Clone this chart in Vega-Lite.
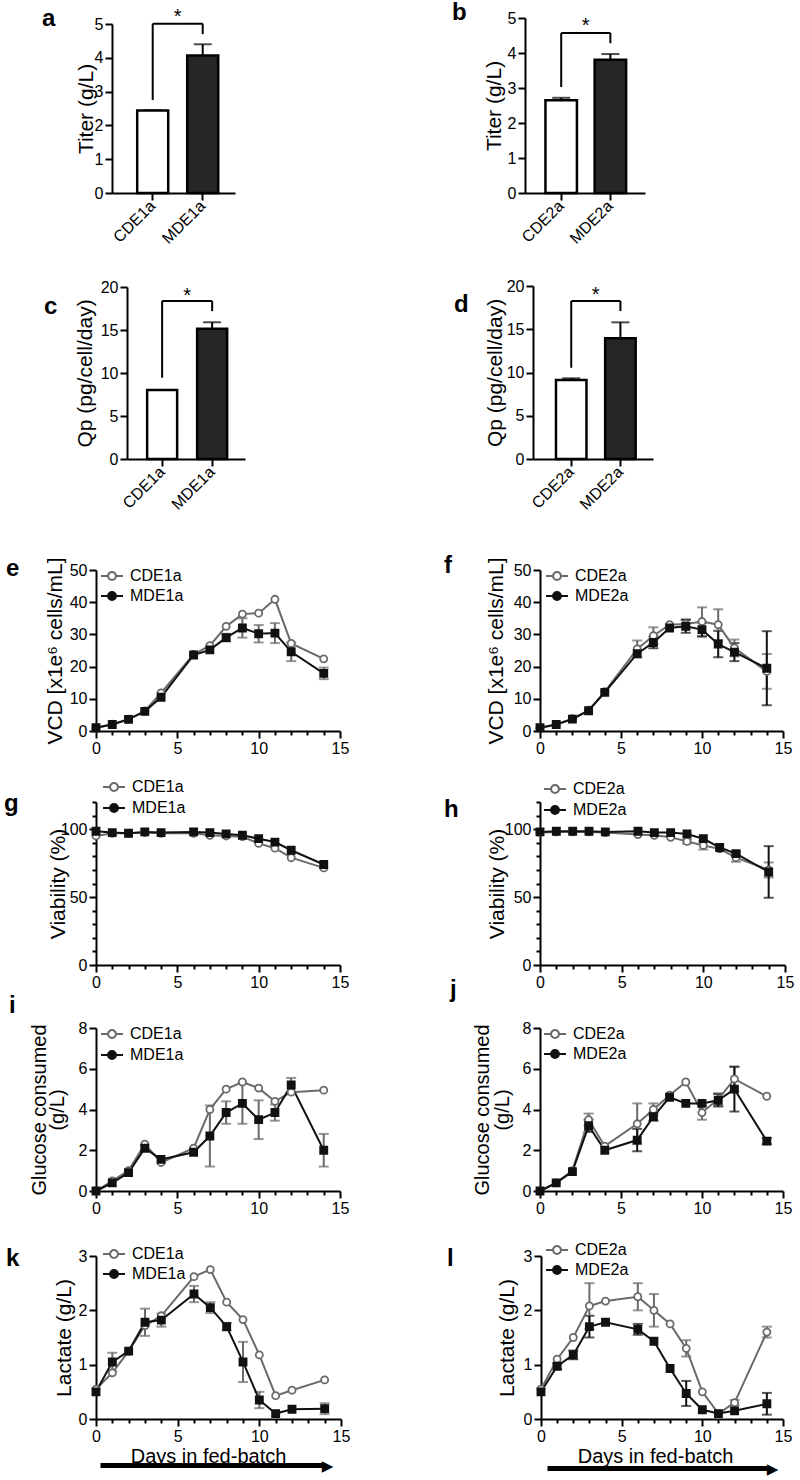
{
"$schema": "https://vega.github.io/schema/vega-lite/v6.json",
"background": "white",
"padding": {"left": 4, "top": 1, "right": 4, "bottom": 2},
"config": {
  "font": "Liberation Sans",
  "view": {"stroke": null},
  "axis": {"grid": false, "domainColor": "#000", "domainWidth": 2, "tickColor": "#000", "tickWidth": 2, "tickSize": 7, "labelFontSize": 16, "labelColor": "#000", "labelPadding": 2, "titleFontSize": 21, "titleFontWeight": "normal", "titleColor": "#000", "titleBaseline": "middle", "labelFont": "Liberation Sans", "titleFont": "Liberation Sans"},
  "legend": {"labelFontSize": 16, "labelColor": "#000", "labelFont": "Liberation Sans"},
  "title": {"fontSize": 24, "fontWeight": "bold", "anchor": "start", "frame": "group", "offset": 0, "baseline": "alphabetic", "color": "#000", "font": "Liberation Sans"},
  "text": {"font": "Liberation Sans"}
},
"datasets": {
  "bars": [
    {"p":"a","g":"CDE1a","v":2.44,"e":0},
    {"p":"a","g":"MDE1a","v":4.07,"e":0.33},
    {"p":"b","g":"CDE2a","v":2.65,"e":0.07},
    {"p":"b","g":"MDE2a","v":3.81,"e":0.16},
    {"p":"c","g":"CDE1a","v":8.02,"e":0},
    {"p":"c","g":"MDE1a","v":15.15,"e":0.75},
    {"p":"d","g":"CDE2a","v":9.13,"e":0.2},
    {"p":"d","g":"MDE2a","v":13.95,"e":1.85}
  ],
  "sig": [
    {"p":"a","k":"leg","g":"CDE1a","v":2.75,"v2":5.01},
    {"p":"a","k":"leg","g":"MDE1a","v":4.7,"v2":5.01},
    {"p":"a","k":"top","g":"CDE1a","v":5.01},
    {"p":"a","k":"top","g":"MDE1a","v":5.01},
    {"p":"a","k":"star","g":"CDE1a","v":5.03,"s":"*"},
    {"p":"b","k":"leg","g":"CDE2a","v":3.03,"v2":4.57},
    {"p":"b","k":"leg","g":"MDE2a","v":4.28,"v2":4.57},
    {"p":"b","k":"top","g":"CDE2a","v":4.57},
    {"p":"b","k":"top","g":"MDE2a","v":4.57},
    {"p":"b","k":"star","g":"CDE2a","v":4.61,"s":"*"},
    {"p":"c","k":"leg","g":"CDE1a","v":9.45,"v2":18.37},
    {"p":"c","k":"leg","g":"MDE1a","v":17.2,"v2":18.37},
    {"p":"c","k":"top","g":"CDE1a","v":18.37},
    {"p":"c","k":"top","g":"MDE1a","v":18.37},
    {"p":"c","k":"star","g":"CDE1a","v":18.26,"s":"*"},
    {"p":"d","k":"leg","g":"CDE2a","v":10.55,"v2":18.27},
    {"p":"d","k":"leg","g":"MDE2a","v":17.1,"v2":18.27},
    {"p":"d","k":"top","g":"CDE2a","v":18.27},
    {"p":"d","k":"top","g":"MDE2a","v":18.27},
    {"p":"d","k":"star","g":"CDE2a","v":18.32,"s":"*"}
  ],
  "lines": [
    {"p":"e","g":"CDE1a","d":0,"v":1.0},{"p":"e","g":"CDE1a","d":1,"v":2.1},{"p":"e","g":"CDE1a","d":2,"v":3.7},{"p":"e","g":"CDE1a","d":3,"v":6.2},{"p":"e","g":"CDE1a","d":4,"v":11.8},{"p":"e","g":"CDE1a","d":6,"v":23.8},{"p":"e","g":"CDE1a","d":7,"v":26.5},{"p":"e","g":"CDE1a","d":8,"v":32.5},{"p":"e","g":"CDE1a","d":9,"v":36.3},{"p":"e","g":"CDE1a","d":10,"v":36.6},{"p":"e","g":"CDE1a","d":11,"v":40.9},{"p":"e","g":"CDE1a","d":12,"v":27.2},{"p":"e","g":"CDE1a","d":14,"v":22.4},
    {"p":"e","g":"MDE1a","d":0,"v":1.0},{"p":"e","g":"MDE1a","d":1,"v":2.0},{"p":"e","g":"MDE1a","d":2,"v":3.6},{"p":"e","g":"MDE1a","d":3,"v":6.1},{"p":"e","g":"MDE1a","d":4,"v":10.5},{"p":"e","g":"MDE1a","d":6,"v":23.6},{"p":"e","g":"MDE1a","d":7,"v":25.2},{"p":"e","g":"MDE1a","d":8,"v":29.0,"e":1.2},{"p":"e","g":"MDE1a","d":9,"v":32.0,"e":3.0},{"p":"e","g":"MDE1a","d":10,"v":30.2,"e":2.7},{"p":"e","g":"MDE1a","d":11,"v":30.4,"e":3.1},{"p":"e","g":"MDE1a","d":12,"v":24.6,"e":2.9},{"p":"e","g":"MDE1a","d":14,"v":17.9,"e":1.8},
    {"p":"f","g":"CDE2a","d":0,"v":1.0},{"p":"f","g":"CDE2a","d":1,"v":2.0},{"p":"f","g":"CDE2a","d":2,"v":3.8},{"p":"f","g":"CDE2a","d":3,"v":6.5},{"p":"f","g":"CDE2a","d":4,"v":12.2},{"p":"f","g":"CDE2a","d":6,"v":25.5,"e":2.6},{"p":"f","g":"CDE2a","d":7,"v":29.6,"e":2.6},{"p":"f","g":"CDE2a","d":8,"v":33.0},{"p":"f","g":"CDE2a","d":9,"v":33.2,"e":1.5},{"p":"f","g":"CDE2a","d":10,"v":34.0,"e":4.4},{"p":"f","g":"CDE2a","d":11,"v":33.0,"e":4.8},{"p":"f","g":"CDE2a","d":12,"v":25.8,"e":2.6},{"p":"f","g":"CDE2a","d":14,"v":18.5,"e":5.4},
    {"p":"f","g":"MDE2a","d":0,"v":1.0},{"p":"f","g":"MDE2a","d":1,"v":2.0},{"p":"f","g":"MDE2a","d":2,"v":3.7},{"p":"f","g":"MDE2a","d":3,"v":6.3},{"p":"f","g":"MDE2a","d":4,"v":12.0},{"p":"f","g":"MDE2a","d":6,"v":24.0},{"p":"f","g":"MDE2a","d":7,"v":27.5,"e":1.8},{"p":"f","g":"MDE2a","d":8,"v":32.0},{"p":"f","g":"MDE2a","d":9,"v":32.5,"e":2.0},{"p":"f","g":"MDE2a","d":10,"v":31.5,"e":2.2},{"p":"f","g":"MDE2a","d":11,"v":27.0,"e":4.1},{"p":"f","g":"MDE2a","d":12,"v":24.5,"e":2.8},{"p":"f","g":"MDE2a","d":14,"v":19.5,"e":11.5},
    {"p":"g","g":"CDE1a","d":0,"v":95},{"p":"g","g":"CDE1a","d":1,"v":97},{"p":"g","g":"CDE1a","d":2,"v":97},{"p":"g","g":"CDE1a","d":3,"v":97.5},{"p":"g","g":"CDE1a","d":4,"v":97},{"p":"g","g":"CDE1a","d":6,"v":97},{"p":"g","g":"CDE1a","d":7,"v":95.5},{"p":"g","g":"CDE1a","d":8,"v":95},{"p":"g","g":"CDE1a","d":9,"v":94.5},{"p":"g","g":"CDE1a","d":10,"v":89.5},{"p":"g","g":"CDE1a","d":11,"v":86},{"p":"g","g":"CDE1a","d":12,"v":79},{"p":"g","g":"CDE1a","d":14,"v":71.5},
    {"p":"g","g":"MDE1a","d":0,"v":98.5},{"p":"g","g":"MDE1a","d":1,"v":97.5},{"p":"g","g":"MDE1a","d":2,"v":97},{"p":"g","g":"MDE1a","d":3,"v":98},{"p":"g","g":"MDE1a","d":4,"v":97.5},{"p":"g","g":"MDE1a","d":6,"v":98},{"p":"g","g":"MDE1a","d":7,"v":97.5},{"p":"g","g":"MDE1a","d":8,"v":96.5},{"p":"g","g":"MDE1a","d":9,"v":95.5},{"p":"g","g":"MDE1a","d":10,"v":93},{"p":"g","g":"MDE1a","d":11,"v":90.5},{"p":"g","g":"MDE1a","d":12,"v":84.5},{"p":"g","g":"MDE1a","d":14,"v":74},
    {"p":"h","g":"CDE2a","d":0,"v":97.5},{"p":"h","g":"CDE2a","d":1,"v":98},{"p":"h","g":"CDE2a","d":2,"v":98},{"p":"h","g":"CDE2a","d":3,"v":98},{"p":"h","g":"CDE2a","d":4,"v":97.5},{"p":"h","g":"CDE2a","d":6,"v":96},{"p":"h","g":"CDE2a","d":7,"v":95.5},{"p":"h","g":"CDE2a","d":8,"v":94},{"p":"h","g":"CDE2a","d":9,"v":91,"e":1.5},{"p":"h","g":"CDE2a","d":10,"v":88,"e":3},{"p":"h","g":"CDE2a","d":11,"v":85.5},{"p":"h","g":"CDE2a","d":12,"v":79,"e":3},{"p":"h","g":"CDE2a","d":14,"v":70,"e":5.5},
    {"p":"h","g":"MDE2a","d":0,"v":98},{"p":"h","g":"MDE2a","d":1,"v":98.5},{"p":"h","g":"MDE2a","d":2,"v":98.5},{"p":"h","g":"MDE2a","d":3,"v":98.5},{"p":"h","g":"MDE2a","d":4,"v":98},{"p":"h","g":"MDE2a","d":6,"v":98.5},{"p":"h","g":"MDE2a","d":7,"v":97.5},{"p":"h","g":"MDE2a","d":8,"v":97.5},{"p":"h","g":"MDE2a","d":9,"v":96.5},{"p":"h","g":"MDE2a","d":10,"v":93},{"p":"h","g":"MDE2a","d":11,"v":86.5},{"p":"h","g":"MDE2a","d":12,"v":82,"e":1.5},{"p":"h","g":"MDE2a","d":14,"v":68.5,"e":19},
    {"p":"i","g":"CDE1a","d":0,"v":0},{"p":"i","g":"CDE1a","d":1,"v":0.5},{"p":"i","g":"CDE1a","d":2,"v":1.0},{"p":"i","g":"CDE1a","d":3,"v":2.3},{"p":"i","g":"CDE1a","d":4,"v":1.4},{"p":"i","g":"CDE1a","d":6,"v":2.1},{"p":"i","g":"CDE1a","d":7,"v":4.0},{"p":"i","g":"CDE1a","d":8,"v":5.0},{"p":"i","g":"CDE1a","d":9,"v":5.35},{"p":"i","g":"CDE1a","d":10,"v":5.05},{"p":"i","g":"CDE1a","d":11,"v":4.4},{"p":"i","g":"CDE1a","d":12,"v":4.85},{"p":"i","g":"CDE1a","d":14,"v":4.95},
    {"p":"i","g":"MDE1a","d":0,"v":0},{"p":"i","g":"MDE1a","d":1,"v":0.4},{"p":"i","g":"MDE1a","d":2,"v":0.9},{"p":"i","g":"MDE1a","d":3,"v":2.1},{"p":"i","g":"MDE1a","d":4,"v":1.55},{"p":"i","g":"MDE1a","d":6,"v":1.9},{"p":"i","g":"MDE1a","d":7,"v":2.7,"e":1.5},{"p":"i","g":"MDE1a","d":8,"v":3.85,"e":0.55},{"p":"i","g":"MDE1a","d":9,"v":4.3,"e":1.0},{"p":"i","g":"MDE1a","d":10,"v":3.5,"e":0.95},{"p":"i","g":"MDE1a","d":11,"v":3.85,"e":0.4},{"p":"i","g":"MDE1a","d":12,"v":5.2,"e":0.35},{"p":"i","g":"MDE1a","d":14,"v":2.0,"e":0.8},
    {"p":"j","g":"CDE2a","d":0,"v":0},{"p":"j","g":"CDE2a","d":1,"v":0.4},{"p":"j","g":"CDE2a","d":2,"v":1.0},{"p":"j","g":"CDE2a","d":3,"v":3.5,"e":0.3},{"p":"j","g":"CDE2a","d":4,"v":2.2},{"p":"j","g":"CDE2a","d":6,"v":3.3,"e":1.0},{"p":"j","g":"CDE2a","d":7,"v":4.0,"e":0.3},{"p":"j","g":"CDE2a","d":8,"v":4.7},{"p":"j","g":"CDE2a","d":9,"v":5.35},{"p":"j","g":"CDE2a","d":10,"v":3.85,"e":0.35},{"p":"j","g":"CDE2a","d":11,"v":4.5,"e":0.3},{"p":"j","g":"CDE2a","d":12,"v":5.5,"e":0.6},{"p":"j","g":"CDE2a","d":14,"v":4.65},
    {"p":"j","g":"MDE2a","d":0,"v":0},{"p":"j","g":"MDE2a","d":1,"v":0.4},{"p":"j","g":"MDE2a","d":2,"v":0.95},{"p":"j","g":"MDE2a","d":3,"v":3.2,"e":0.3},{"p":"j","g":"MDE2a","d":4,"v":2.0},{"p":"j","g":"MDE2a","d":6,"v":2.5,"e":0.55},{"p":"j","g":"MDE2a","d":7,"v":3.65,"e":0.2},{"p":"j","g":"MDE2a","d":8,"v":4.6},{"p":"j","g":"MDE2a","d":9,"v":4.3},{"p":"j","g":"MDE2a","d":10,"v":4.3},{"p":"j","g":"MDE2a","d":11,"v":4.45,"e":0.3},{"p":"j","g":"MDE2a","d":12,"v":5.0,"e":1.1},{"p":"j","g":"MDE2a","d":14,"v":2.45,"e":0.15},
    {"p":"k","g":"CDE1a","d":0,"v":0.55},{"p":"k","g":"CDE1a","d":1,"v":0.85},{"p":"k","g":"CDE1a","d":2,"v":1.25},{"p":"k","g":"CDE1a","d":3,"v":1.72},{"p":"k","g":"CDE1a","d":4,"v":1.9},{"p":"k","g":"CDE1a","d":6,"v":2.62},{"p":"k","g":"CDE1a","d":7,"v":2.75},{"p":"k","g":"CDE1a","d":8,"v":2.15},{"p":"k","g":"CDE1a","d":9,"v":1.83},{"p":"k","g":"CDE1a","d":10,"v":1.18},{"p":"k","g":"CDE1a","d":11,"v":0.43},{"p":"k","g":"CDE1a","d":12,"v":0.53},{"p":"k","g":"CDE1a","d":14,"v":0.72},
    {"p":"k","g":"MDE1a","d":0,"v":0.5},{"p":"k","g":"MDE1a","d":1,"v":1.05,"e":0.17},{"p":"k","g":"MDE1a","d":2,"v":1.25},{"p":"k","g":"MDE1a","d":3,"v":1.78,"e":0.25},{"p":"k","g":"MDE1a","d":4,"v":1.82,"e":0.12},{"p":"k","g":"MDE1a","d":6,"v":2.3,"e":0.15},{"p":"k","g":"MDE1a","d":7,"v":2.05,"e":0.1},{"p":"k","g":"MDE1a","d":8,"v":1.7,"e":0.07},{"p":"k","g":"MDE1a","d":9,"v":1.05,"e":0.37},{"p":"k","g":"MDE1a","d":10,"v":0.35,"e":0.15},{"p":"k","g":"MDE1a","d":11,"v":0.1},{"p":"k","g":"MDE1a","d":12,"v":0.18},{"p":"k","g":"MDE1a","d":14,"v":0.19,"e":0.1},
    {"p":"l","g":"CDE2a","d":0,"v":0.55},{"p":"l","g":"CDE2a","d":1,"v":1.1},{"p":"l","g":"CDE2a","d":2,"v":1.5},{"p":"l","g":"CDE2a","d":3,"v":2.08,"e":0.42},{"p":"l","g":"CDE2a","d":4,"v":2.17},{"p":"l","g":"CDE2a","d":6,"v":2.25,"e":0.25},{"p":"l","g":"CDE2a","d":7,"v":2.0,"e":0.3},{"p":"l","g":"CDE2a","d":8,"v":1.75},{"p":"l","g":"CDE2a","d":9,"v":1.3,"e":0.15},{"p":"l","g":"CDE2a","d":10,"v":0.5},{"p":"l","g":"CDE2a","d":11,"v":0.1},{"p":"l","g":"CDE2a","d":12,"v":0.3,"e":0.05},{"p":"l","g":"CDE2a","d":14,"v":1.6,"e":0.1},
    {"p":"l","g":"MDE2a","d":0,"v":0.5},{"p":"l","g":"MDE2a","d":1,"v":0.97,"e":0.05},{"p":"l","g":"MDE2a","d":2,"v":1.18,"e":0.08},{"p":"l","g":"MDE2a","d":3,"v":1.7,"e":0.2},{"p":"l","g":"MDE2a","d":4,"v":1.78},{"p":"l","g":"MDE2a","d":6,"v":1.65,"e":0.1},{"p":"l","g":"MDE2a","d":7,"v":1.43},{"p":"l","g":"MDE2a","d":8,"v":0.93},{"p":"l","g":"MDE2a","d":9,"v":0.47,"e":0.23},{"p":"l","g":"MDE2a","d":10,"v":0.17},{"p":"l","g":"MDE2a","d":11,"v":0.1},{"p":"l","g":"MDE2a","d":12,"v":0.15},{"p":"l","g":"MDE2a","d":14,"v":0.28,"e":0.2}
  ]
},
"columns": 2,
"align": "each",
"bounds": "flush",
"spacing": {"row": 63, "column": 184},
"resolve": {"scale": {"color": "independent", "stroke": "independent", "fill": "independent", "shape": "independent"}, "legend": {"color": "independent", "stroke": "independent", "fill": "independent", "shape": "independent"}},
"concat": [
  {
    "width": 139, "height": 175,
    "title": {"text": "a", "dx": -54, "dy": 28},
    "encoding": {
      "x": {"field": "g", "type": "nominal", "scale": {"range": [16, 139], "paddingInner": 0.38, "paddingOuter": 0.42, "align": 0.6}, "axis": {"title": null, "labelAngle": -45, "labelAlign": "right", "labelBaseline": "middle", "labelPadding": 3}},
      "y": {"field": "v", "type": "quantitative", "scale": {"domain": [0, 5], "range": [175, 6], "nice": false}, "axis": {"values": [0,1,2,3,4,5], "title": "Titer (g/L)", "titleX": -26, "offset": -16}}
    },
    "layer": [
      {"data": {"name": "bars"}, "transform": [{"filter": "datum.p === 'a'"}], "mark": {"type": "errorbar", "thickness": 2, "color": "#000", "ticks": {"size": 18, "thickness": 2, "color": "#000"}}, "encoding": {"yError": {"field": "e"}}},
      {"data": {"name": "bars"}, "transform": [{"filter": "datum.p === 'a'"}], "mark": {"type": "bar", "stroke": "#000", "strokeWidth": 2.5}, "encoding": {"fill": {"field": "g", "type": "nominal", "scale": {"range": ["#ffffff", "#262626"]}, "legend": null}}},
      {"data": {"name": "sig"}, "transform": [{"filter": "datum.p === 'a' && datum.k === 'leg'"}], "mark": {"type": "rule", "color": "#000", "strokeWidth": 2}, "encoding": {"y2": {"field": "v2"}}},
      {"data": {"name": "sig"}, "transform": [{"filter": "datum.p === 'a' && datum.k === 'top'"}], "mark": {"type": "line", "color": "#000", "strokeWidth": 2}, "encoding": {}},
      {"data": {"name": "sig"}, "transform": [{"filter": "datum.p === 'a' && datum.k === 'star'"}], "mark": {"type": "text", "dx": 25, "fontSize": 20, "baseline": "alphabetic", "align": "center", "color": "#000"}, "encoding": {"text": {"field": "s"}}}
    ]
  },
  {
    "width": 120, "height": 175,
    "title": {"text": "b", "dx": -73, "dy": 19},
    "encoding": {
      "x": {"field": "g", "type": "nominal", "scale": {"paddingInner": 0.36, "paddingOuter": 0.4, "align": 0.52}, "axis": {"title": null, "labelAngle": -45, "labelAlign": "right", "labelBaseline": "middle", "labelPadding": 3}},
      "y": {"field": "v", "type": "quantitative", "scale": {"domain": [0, 5], "nice": false}, "axis": {"values": [0,1,2,3,4,5], "title": "Titer (g/L)", "titleX": -31}}
    },
    "layer": [
      {"data": {"name": "bars"}, "transform": [{"filter": "datum.p === 'b'"}], "mark": {"type": "errorbar", "thickness": 2, "color": "#000", "ticks": {"size": 18, "thickness": 2, "color": "#000"}}, "encoding": {"yError": {"field": "e"}}},
      {"data": {"name": "bars"}, "transform": [{"filter": "datum.p === 'b'"}], "mark": {"type": "bar", "stroke": "#000", "strokeWidth": 2.5}, "encoding": {"fill": {"field": "g", "type": "nominal", "scale": {"range": ["#ffffff", "#262626"]}, "legend": null}}},
      {"data": {"name": "sig"}, "transform": [{"filter": "datum.p === 'b' && datum.k === 'leg'"}], "mark": {"type": "rule", "color": "#000", "strokeWidth": 2}, "encoding": {"y2": {"field": "v2"}}},
      {"data": {"name": "sig"}, "transform": [{"filter": "datum.p === 'b' && datum.k === 'top'"}], "mark": {"type": "line", "color": "#000", "strokeWidth": 2}, "encoding": {}},
      {"data": {"name": "sig"}, "transform": [{"filter": "datum.p === 'b' && datum.k === 'star'"}], "mark": {"type": "text", "dx": 24.5, "fontSize": 20, "baseline": "alphabetic", "align": "center", "color": "#000"}, "encoding": {"text": {"field": "s"}}}
    ]
  },
  {
    "width": 149, "height": 203,
    "title": {"text": "c", "dx": -52, "dy": 67},
    "encoding": {
      "x": {"field": "g", "type": "nominal", "scale": {"range": [31, 149], "paddingInner": 0.4, "paddingOuter": 0.38, "align": 0.53}, "axis": {"title": null, "labelAngle": -45, "labelAlign": "right", "labelBaseline": "middle", "labelPadding": 3}},
      "y": {"field": "v", "type": "quantitative", "scale": {"domain": [0, 20], "range": [203, 31], "nice": false}, "axis": {"values": [0,5,10,15,20], "title": "Qp (pg/cell/day)", "titleX": -42, "offset": -31}}
    },
    "layer": [
      {"data": {"name": "bars"}, "transform": [{"filter": "datum.p === 'c'"}], "mark": {"type": "errorbar", "thickness": 2, "color": "#000", "ticks": {"size": 18, "thickness": 2, "color": "#000"}}, "encoding": {"yError": {"field": "e"}}},
      {"data": {"name": "bars"}, "transform": [{"filter": "datum.p === 'c'"}], "mark": {"type": "bar", "stroke": "#000", "strokeWidth": 2.5}, "encoding": {"fill": {"field": "g", "type": "nominal", "scale": {"range": ["#ffffff", "#262626"]}, "legend": null}}},
      {"data": {"name": "sig"}, "transform": [{"filter": "datum.p === 'c' && datum.k === 'leg'"}], "mark": {"type": "rule", "color": "#000", "strokeWidth": 2}, "encoding": {"y2": {"field": "v2"}}},
      {"data": {"name": "sig"}, "transform": [{"filter": "datum.p === 'c' && datum.k === 'top'"}], "mark": {"type": "line", "color": "#000", "strokeWidth": 2}, "encoding": {}},
      {"data": {"name": "sig"}, "transform": [{"filter": "datum.p === 'c' && datum.k === 'star'"}], "mark": {"type": "text", "dx": 25, "fontSize": 20, "baseline": "alphabetic", "align": "center", "color": "#000"}, "encoding": {"text": {"field": "s"}}}
    ]
  },
  {
    "width": 128, "height": 203,
    "title": {"text": "d", "dx": -71, "dy": 65},
    "encoding": {
      "x": {"field": "g", "type": "nominal", "scale": {"range": [8, 128], "paddingInner": 0.38, "paddingOuter": 0.41, "align": 0.57}, "axis": {"title": null, "labelAngle": -45, "labelAlign": "right", "labelBaseline": "middle", "labelPadding": 3}},
      "y": {"field": "v", "type": "quantitative", "scale": {"domain": [0, 20], "range": [203, 30], "nice": false}, "axis": {"values": [0,5,10,15,20], "title": "Qp (pg/cell/day)", "titleX": -38, "offset": -8}}
    },
    "layer": [
      {"data": {"name": "bars"}, "transform": [{"filter": "datum.p === 'd'"}], "mark": {"type": "errorbar", "thickness": 2, "color": "#000", "ticks": {"size": 18, "thickness": 2, "color": "#000"}}, "encoding": {"yError": {"field": "e"}}},
      {"data": {"name": "bars"}, "transform": [{"filter": "datum.p === 'd'"}], "mark": {"type": "bar", "stroke": "#000", "strokeWidth": 2.5}, "encoding": {"fill": {"field": "g", "type": "nominal", "scale": {"range": ["#ffffff", "#262626"]}, "legend": null}}},
      {"data": {"name": "sig"}, "transform": [{"filter": "datum.p === 'd' && datum.k === 'leg'"}], "mark": {"type": "rule", "color": "#000", "strokeWidth": 2}, "encoding": {"y2": {"field": "v2"}}},
      {"data": {"name": "sig"}, "transform": [{"filter": "datum.p === 'd' && datum.k === 'top'"}], "mark": {"type": "line", "color": "#000", "strokeWidth": 2}, "encoding": {}},
      {"data": {"name": "sig"}, "transform": [{"filter": "datum.p === 'd' && datum.k === 'star'"}], "mark": {"type": "text", "dx": 24.5, "fontSize": 20, "baseline": "alphabetic", "align": "center", "color": "#000"}, "encoding": {"text": {"field": "s"}}}
    ]
  },
  {
    "width": 244, "height": 209,
    "title": {"text": "e", "dx": -90, "dy": 63},
    "data": {"name": "lines"},
    "transform": [{"filter": "datum.p === 'e'"}],
    "encoding": {
      "x": {"field": "d", "type": "quantitative", "scale": {"domain": [0, 15], "nice": false}, "axis": {"values": [0,1,2,3,4,5,6,7,8,9,10,11,12,13,14,15], "labelExpr": "datum.value % 5 === 0 ? datum.label : ''", "tickSize": {"condition": {"test": "datum.value % 5 === 0", "value": 7}, "value": 4}, "title": null, "labelFlush": false, "labelOverlap": false}},
      "y": {"field": "v", "type": "quantitative", "scale": {"domain": [0, 50], "range": [209, 48], "nice": false}, "axis": {"values": [0,10,20,30,40,50], "title": "VCD [x1e⁶ cells/mL]", "titleX": -40.5}}
    },
    "layer": [
      {"transform": [{"filter": "datum.e > 0"}], "mark": {"type": "errorbar", "thickness": 2, "ticks": {"size": 10, "thickness": 2}}, "encoding": {"yError": {"field": "e"}, "color": {"field": "g", "type": "nominal", "scale": {"range": ["#6a6a6a", "#111111"]}, "legend": null}}},
      {"mark": {"type": "line", "strokeWidth": 2}, "encoding": {"stroke": {"field": "g", "type": "nominal", "scale": {"range": ["#6a6a6a", "#111111"]}, "legend": {"orient": "none", "legendX": 4, "legendY": 42, "title": null, "symbolType": "M-1,0L-0.36,0M0.36,0L1,0M-0.36,0A0.36,0.36,0,1,1,0.36,0A0.36,0.36,0,1,1,-0.36,0Z", "symbolSize": 484, "symbolStrokeWidth": 2, "labelFontSize": 16, "labelOffset": 6, "rowPadding": 0, "padding": 0, "encode": {"symbols": {"update": {"fill": {"signal": "indexof(datum.value, 'C') === 0 ? '#ffffff' : '#111111'"}}}}}}}},
      {"mark": {"type": "point", "size": 50, "strokeWidth": 1.8, "opacity": 1}, "encoding": {"stroke": {"field": "g", "type": "nominal", "legend": null}, "fill": {"field": "g", "type": "nominal", "scale": {"range": ["#ffffff", "#111111"]}, "legend": null}, "shape": {"field": "g", "type": "nominal", "scale": {"range": ["circle", "square"]}, "legend": null}}}
    ]
  },
  {
    "width": 258, "height": 209,
    "title": {"text": "f", "dx": -81, "dy": 60},
    "data": {"name": "lines"},
    "transform": [{"filter": "datum.p === 'f'"}],
    "encoding": {
      "x": {"field": "d", "type": "quantitative", "scale": {"domain": [0, 15], "range": [15, 258], "nice": false}, "axis": {"values": [0,1,2,3,4,5,6,7,8,9,10,11,12,13,14,15], "labelExpr": "datum.value % 5 === 0 ? datum.label : ''", "tickSize": {"condition": {"test": "datum.value % 5 === 0", "value": 7}, "value": 4}, "title": null, "labelFlush": false, "labelOverlap": false}},
      "y": {"field": "v", "type": "quantitative", "scale": {"domain": [0, 50], "range": [209, 48], "nice": false}, "axis": {"values": [0,10,20,30,40,50], "title": "VCD [x1e⁶ cells/mL]", "titleX": -44, "offset": -15}}
    },
    "layer": [
      {"transform": [{"filter": "datum.e > 0"}], "mark": {"type": "errorbar", "thickness": 2, "ticks": {"size": 10, "thickness": 2}}, "encoding": {"yError": {"field": "e"}, "color": {"field": "g", "type": "nominal", "scale": {"range": ["#6a6a6a", "#111111"]}, "legend": null}}},
      {"mark": {"type": "line", "strokeWidth": 2}, "encoding": {"stroke": {"field": "g", "type": "nominal", "scale": {"range": ["#6a6a6a", "#111111"]}, "legend": {"orient": "none", "legendX": 20, "legendY": 42, "title": null, "symbolType": "M-1,0L-0.36,0M0.36,0L1,0M-0.36,0A0.36,0.36,0,1,1,0.36,0A0.36,0.36,0,1,1,-0.36,0Z", "symbolSize": 484, "symbolStrokeWidth": 2, "labelFontSize": 16, "labelOffset": 6, "rowPadding": 0, "padding": 0, "encode": {"symbols": {"update": {"fill": {"signal": "indexof(datum.value, 'C') === 0 ? '#ffffff' : '#111111'"}}}}}}}},
      {"mark": {"type": "point", "size": 50, "strokeWidth": 1.8, "opacity": 1}, "encoding": {"stroke": {"field": "g", "type": "nominal", "legend": null}, "fill": {"field": "g", "type": "nominal", "scale": {"range": ["#ffffff", "#111111"]}, "legend": null}, "shape": {"field": "g", "type": "nominal", "scale": {"range": ["circle", "square"]}, "legend": null}}}
    ]
  },
  {
    "width": 244, "height": 171,
    "title": {"text": "g", "dx": -92, "dy": 45},
    "data": {"name": "lines"},
    "transform": [{"filter": "datum.p === 'g'"}],
    "encoding": {
      "x": {"field": "d", "type": "quantitative", "scale": {"domain": [0, 15], "nice": false}, "axis": {"values": [0,1,2,3,4,5,6,7,8,9,10,11,12,13,14,15], "labelExpr": "datum.value % 5 === 0 ? datum.label : ''", "tickSize": {"condition": {"test": "datum.value % 5 === 0", "value": 7}, "value": 4}, "title": null, "labelFlush": false, "labelOverlap": false}},
      "y": {"field": "v", "type": "quantitative", "scale": {"domain": [0, 120], "range": [171, 8], "nice": false}, "axis": {"values": [0,10,20,30,40,50,60,70,80,90,100,110,120], "labelExpr": "datum.value % 50 === 0 ? datum.label : ''", "tickSize": {"condition": {"test": "datum.value % 50 === 0", "value": 7}, "value": 4}, "labelOverlap": false, "title": "Viability (%)", "titleX": -38}}
    },
    "layer": [
      {"transform": [{"filter": "datum.e > 0"}], "mark": {"type": "errorbar", "thickness": 2, "ticks": {"size": 10, "thickness": 2}}, "encoding": {"yError": {"field": "e"}, "color": {"field": "g", "type": "nominal", "scale": {"range": ["#6a6a6a", "#111111"]}, "legend": null}}},
      {"mark": {"type": "line", "strokeWidth": 2}, "encoding": {"stroke": {"field": "g", "type": "nominal", "scale": {"range": ["#6a6a6a", "#111111"]}, "legend": {"orient": "none", "legendX": 6, "legendY": -19, "title": null, "symbolType": "M-1,0L-0.36,0M0.36,0L1,0M-0.36,0A0.36,0.36,0,1,1,0.36,0A0.36,0.36,0,1,1,-0.36,0Z", "symbolSize": 484, "symbolStrokeWidth": 2, "labelFontSize": 16, "labelOffset": 6, "rowPadding": 1, "padding": 0, "encode": {"symbols": {"update": {"fill": {"signal": "indexof(datum.value, 'C') === 0 ? '#ffffff' : '#111111'"}}}}}}}},
      {"mark": {"type": "point", "size": 50, "strokeWidth": 1.8, "opacity": 1}, "encoding": {"stroke": {"field": "g", "type": "nominal", "legend": null}, "fill": {"field": "g", "type": "nominal", "scale": {"range": ["#ffffff", "#111111"]}, "legend": null}, "shape": {"field": "g", "type": "nominal", "scale": {"range": ["circle", "square"]}, "legend": null}}}
    ]
  },
  {
    "width": 260, "height": 171,
    "title": {"text": "h", "dx": -81, "dy": 49},
    "data": {"name": "lines"},
    "transform": [{"filter": "datum.p === 'h'"}],
    "encoding": {
      "x": {"field": "d", "type": "quantitative", "scale": {"domain": [0, 15], "range": [15, 260], "nice": false}, "axis": {"values": [0,1,2,3,4,5,6,7,8,9,10,11,12,13,14,15], "labelExpr": "datum.value % 5 === 0 ? datum.label : ''", "tickSize": {"condition": {"test": "datum.value % 5 === 0", "value": 7}, "value": 4}, "title": null, "labelFlush": false, "labelOverlap": false}},
      "y": {"field": "v", "type": "quantitative", "scale": {"domain": [0, 120], "range": [171, 8], "nice": false}, "axis": {"values": [0,10,20,30,40,50,60,70,80,90,100,110,120], "labelExpr": "datum.value % 50 === 0 ? datum.label : ''", "tickSize": {"condition": {"test": "datum.value % 50 === 0", "value": 7}, "value": 4}, "labelOverlap": false, "title": "Viability (%)", "titleX": -43, "offset": -15}}
    },
    "layer": [
      {"transform": [{"filter": "datum.e > 0"}], "mark": {"type": "errorbar", "thickness": 2, "ticks": {"size": 10, "thickness": 2}}, "encoding": {"yError": {"field": "e"}, "color": {"field": "g", "type": "nominal", "scale": {"range": ["#6a6a6a", "#111111"]}, "legend": null}}},
      {"mark": {"type": "line", "strokeWidth": 2}, "encoding": {"stroke": {"field": "g", "type": "nominal", "scale": {"range": ["#6a6a6a", "#111111"]}, "legend": {"orient": "none", "legendX": 18, "legendY": -17, "title": null, "symbolType": "M-1,0L-0.36,0M0.36,0L1,0M-0.36,0A0.36,0.36,0,1,1,0.36,0A0.36,0.36,0,1,1,-0.36,0Z", "symbolSize": 484, "symbolStrokeWidth": 2, "labelFontSize": 16, "labelOffset": 6, "rowPadding": 1, "padding": 0, "encode": {"symbols": {"update": {"fill": {"signal": "indexof(datum.value, 'C') === 0 ? '#ffffff' : '#111111'"}}}}}}}},
      {"mark": {"type": "point", "size": 50, "strokeWidth": 1.8, "opacity": 1}, "encoding": {"stroke": {"field": "g", "type": "nominal", "legend": null}, "fill": {"field": "g", "type": "nominal", "scale": {"range": ["#ffffff", "#111111"]}, "legend": null}, "shape": {"field": "g", "type": "nominal", "scale": {"range": ["circle", "square"]}, "legend": null}}}
    ]
  },
  {
    "width": 244, "height": 163,
    "title": {"text": "i", "dx": -87, "dy": 2},
    "data": {"name": "lines"},
    "transform": [{"filter": "datum.p === 'i'"}],
    "encoding": {
      "x": {"field": "d", "type": "quantitative", "scale": {"domain": [0, 15], "nice": false}, "axis": {"values": [0,1,2,3,4,5,6,7,8,9,10,11,12,13,14,15], "labelExpr": "datum.value % 5 === 0 ? datum.label : ''", "tickSize": {"condition": {"test": "datum.value % 5 === 0", "value": 7}, "value": 4}, "title": null, "labelFlush": false, "labelOverlap": false}},
      "y": {"field": "v", "type": "quantitative", "scale": {"domain": [0, 8], "nice": false}, "axis": {"values": [0,2,4,6,8], "title": ["Glucose consumed", "(g/L)"], "titleX": -56.5, "titleFontSize": 20, "titleLineHeight": 18}}
    },
    "layer": [
      {"transform": [{"filter": "datum.e > 0"}], "mark": {"type": "errorbar", "thickness": 2, "ticks": {"size": 10, "thickness": 2}}, "encoding": {"yError": {"field": "e"}, "color": {"field": "g", "type": "nominal", "scale": {"range": ["#6a6a6a", "#111111"]}, "legend": null}}},
      {"mark": {"type": "line", "strokeWidth": 2}, "encoding": {"stroke": {"field": "g", "type": "nominal", "scale": {"range": ["#6a6a6a", "#111111"]}, "legend": {"orient": "none", "legendX": 4, "legendY": -6, "title": null, "symbolType": "M-1,0L-0.36,0M0.36,0L1,0M-0.36,0A0.36,0.36,0,1,1,0.36,0A0.36,0.36,0,1,1,-0.36,0Z", "symbolSize": 484, "symbolStrokeWidth": 2, "labelFontSize": 16, "labelOffset": 6, "rowPadding": 1, "padding": 0, "encode": {"symbols": {"update": {"fill": {"signal": "indexof(datum.value, 'C') === 0 ? '#ffffff' : '#111111'"}}}}}}}},
      {"mark": {"type": "point", "size": 50, "strokeWidth": 1.8, "opacity": 1}, "encoding": {"stroke": {"field": "g", "type": "nominal", "legend": null}, "fill": {"field": "g", "type": "nominal", "scale": {"range": ["#ffffff", "#111111"]}, "legend": null}, "shape": {"field": "g", "type": "nominal", "scale": {"range": ["circle", "square"]}, "legend": null}}}
    ]
  },
  {
    "width": 258, "height": 163,
    "title": {"text": "j", "dx": -75, "dy": -14},
    "data": {"name": "lines"},
    "transform": [{"filter": "datum.p === 'j'"}],
    "encoding": {
      "x": {"field": "d", "type": "quantitative", "scale": {"domain": [0, 15], "range": [15, 258], "nice": false}, "axis": {"values": [0,1,2,3,4,5,6,7,8,9,10,11,12,13,14,15], "labelExpr": "datum.value % 5 === 0 ? datum.label : ''", "tickSize": {"condition": {"test": "datum.value % 5 === 0", "value": 7}, "value": 4}, "title": null, "labelFlush": false, "labelOverlap": false}},
      "y": {"field": "v", "type": "quantitative", "scale": {"domain": [0, 8], "nice": false}, "axis": {"values": [0,2,4,6,8], "title": ["Glucose consumed", "(g/L)"], "titleX": -58, "titleFontSize": 20, "titleLineHeight": 20, "offset": -15}}
    },
    "layer": [
      {"transform": [{"filter": "datum.e > 0"}], "mark": {"type": "errorbar", "thickness": 2, "ticks": {"size": 10, "thickness": 2}}, "encoding": {"yError": {"field": "e"}, "color": {"field": "g", "type": "nominal", "scale": {"range": ["#6a6a6a", "#111111"]}, "legend": null}}},
      {"mark": {"type": "line", "strokeWidth": 2}, "encoding": {"stroke": {"field": "g", "type": "nominal", "scale": {"range": ["#6a6a6a", "#111111"]}, "legend": {"orient": "none", "legendX": 18, "legendY": -6, "title": null, "symbolType": "M-1,0L-0.36,0M0.36,0L1,0M-0.36,0A0.36,0.36,0,1,1,0.36,0A0.36,0.36,0,1,1,-0.36,0Z", "symbolSize": 484, "symbolStrokeWidth": 2, "labelFontSize": 16, "labelOffset": 6, "rowPadding": 0, "padding": 0, "encode": {"symbols": {"update": {"fill": {"signal": "indexof(datum.value, 'C') === 0 ? '#ffffff' : '#111111'"}}}}}}}},
      {"mark": {"type": "point", "size": 50, "strokeWidth": 1.8, "opacity": 1}, "encoding": {"stroke": {"field": "g", "type": "nominal", "legend": null}, "fill": {"field": "g", "type": "nominal", "scale": {"range": ["#ffffff", "#111111"]}, "legend": null}, "shape": {"field": "g", "type": "nominal", "scale": {"range": ["circle", "square"]}, "legend": null}}}
    ]
  },
  {
    "width": 245, "height": 165,
    "title": {"text": "k", "dx": -90, "dy": 33},
    "data": {"name": "lines"},
    "transform": [{"filter": "datum.p === 'k'"}],
    "encoding": {
      "y": {"field": "v", "type": "quantitative", "scale": {"domain": [0, 3], "range": [165, 2], "nice": false}, "axis": {"values": [0,1,2,3], "title": "Lactate (g/L)", "titleX": -32}}
    },
    "layer": [
      {
        "encoding": {"x": {"field": "d", "type": "quantitative", "scale": {"domain": [0, 15], "nice": false}, "axis": {"values": [0,1,2,3,4,5,6,7,8,9,10,11,12,13,14,15], "labelExpr": "datum.value % 5 === 0 ? datum.label : ''", "tickSize": {"condition": {"test": "datum.value % 5 === 0", "value": 7}, "value": 4}, "labelFlush": false, "labelOverlap": false, "orient": "bottom", "title": "Days in fed-batch", "titleX": 112, "titleY": 37, "titleAngle": 0, "titleAlign": "center", "titleBaseline": "middle", "titleFontSize": 20}}},
        "layer": [
          {"transform": [{"filter": "datum.e > 0"}], "mark": {"type": "errorbar", "thickness": 2, "ticks": {"size": 10, "thickness": 2}}, "encoding": {"yError": {"field": "e"}, "color": {"field": "g", "type": "nominal", "scale": {"range": ["#6a6a6a", "#111111"]}, "legend": null}}},
          {"mark": {"type": "line", "strokeWidth": 2}, "encoding": {"stroke": {"field": "g", "type": "nominal", "scale": {"range": ["#6a6a6a", "#111111"]}, "legend": {"orient": "none", "legendX": 6, "legendY": -12, "title": null, "symbolType": "M-1,0L-0.36,0M0.36,0L1,0M-0.36,0A0.36,0.36,0,1,1,0.36,0A0.36,0.36,0,1,1,-0.36,0Z", "symbolSize": 484, "symbolStrokeWidth": 2, "labelFontSize": 16, "labelOffset": 6, "rowPadding": 0, "padding": 0, "encode": {"symbols": {"update": {"fill": {"signal": "indexof(datum.value, 'C') === 0 ? '#ffffff' : '#111111'"}}}}}}}},
          {"mark": {"type": "point", "size": 50, "strokeWidth": 1.8, "opacity": 1}, "encoding": {"stroke": {"field": "g", "type": "nominal", "legend": null}, "fill": {"field": "g", "type": "nominal", "scale": {"range": ["#ffffff", "#111111"]}, "legend": null}, "shape": {"field": "g", "type": "nominal", "scale": {"range": ["circle", "square"]}, "legend": null}}}
        ]
      },
      {"mark": {"type": "point", "opacity": 0}, "encoding": {"x": {"field": "d", "type": "quantitative", "scale": {"domain": [0, 15], "range": [4, 226], "nice": false}, "axis": {"orient": "bottom", "offset": 46, "domainWidth": 5, "domainColor": "#000", "ticks": false, "labels": false, "title": "▶", "titleFont": "DejaVu Sans", "titleFontSize": 15, "titleX": 231, "titleY": 0, "titleAngle": 0, "titleAlign": "center", "titleBaseline": "middle"}}}}
    ],
    "resolve": {"scale": {"x": "independent"}, "axis": {"x": "independent"}}
  },
  {
    "width": 258, "height": 165,
    "title": {"text": "l", "dx": -78, "dy": 37},
    "data": {"name": "lines"},
    "transform": [{"filter": "datum.p === 'l'"}],
    "encoding": {
      "y": {"field": "v", "type": "quantitative", "scale": {"domain": [0, 3], "range": [165, 2], "nice": false}, "axis": {"values": [0,1,2,3], "title": "Lactate (g/L)", "titleX": -34, "offset": -16}}
    },
    "layer": [
      {
        "encoding": {"x": {"field": "d", "type": "quantitative", "scale": {"domain": [0, 15], "range": [16, 258], "nice": false}, "axis": {"values": [0,1,2,3,4,5,6,7,8,9,10,11,12,13,14,15], "labelExpr": "datum.value % 5 === 0 ? datum.label : ''", "tickSize": {"condition": {"test": "datum.value % 5 === 0", "value": 7}, "value": 4}, "labelFlush": false, "labelOverlap": false, "orient": "bottom", "title": "Days in fed-batch", "titleX": 130, "titleY": 37, "titleAngle": 0, "titleAlign": "center", "titleBaseline": "middle", "titleFontSize": 20}}},
        "layer": [
          {"transform": [{"filter": "datum.e > 0"}], "mark": {"type": "errorbar", "thickness": 2, "ticks": {"size": 10, "thickness": 2}}, "encoding": {"yError": {"field": "e"}, "color": {"field": "g", "type": "nominal", "scale": {"range": ["#6a6a6a", "#111111"]}, "legend": null}}},
          {"mark": {"type": "line", "strokeWidth": 2}, "encoding": {"stroke": {"field": "g", "type": "nominal", "scale": {"range": ["#6a6a6a", "#111111"]}, "legend": {"orient": "none", "legendX": 20, "legendY": -16, "title": null, "symbolType": "M-1,0L-0.36,0M0.36,0L1,0M-0.36,0A0.36,0.36,0,1,1,0.36,0A0.36,0.36,0,1,1,-0.36,0Z", "symbolSize": 484, "symbolStrokeWidth": 2, "labelFontSize": 16, "labelOffset": 6, "rowPadding": 0, "padding": 0, "encode": {"symbols": {"update": {"fill": {"signal": "indexof(datum.value, 'C') === 0 ? '#ffffff' : '#111111'"}}}}}}}},
          {"mark": {"type": "point", "size": 50, "strokeWidth": 1.8, "opacity": 1}, "encoding": {"stroke": {"field": "g", "type": "nominal", "legend": null}, "fill": {"field": "g", "type": "nominal", "scale": {"range": ["#ffffff", "#111111"]}, "legend": null}, "shape": {"field": "g", "type": "nominal", "scale": {"range": ["circle", "square"]}, "legend": null}}}
        ]
      },
      {"mark": {"type": "point", "opacity": 0}, "encoding": {"x": {"field": "d", "type": "quantitative", "scale": {"domain": [0, 15], "range": [22, 243], "nice": false}, "axis": {"orient": "bottom", "offset": 49, "domainWidth": 5, "domainColor": "#000", "ticks": false, "labels": false, "title": "▶", "titleFont": "DejaVu Sans", "titleFontSize": 15, "titleX": 247, "titleY": 0, "titleAngle": 0, "titleAlign": "center", "titleBaseline": "middle"}}}}
    ],
    "resolve": {"scale": {"x": "independent"}, "axis": {"x": "independent"}}
  }
]
}
